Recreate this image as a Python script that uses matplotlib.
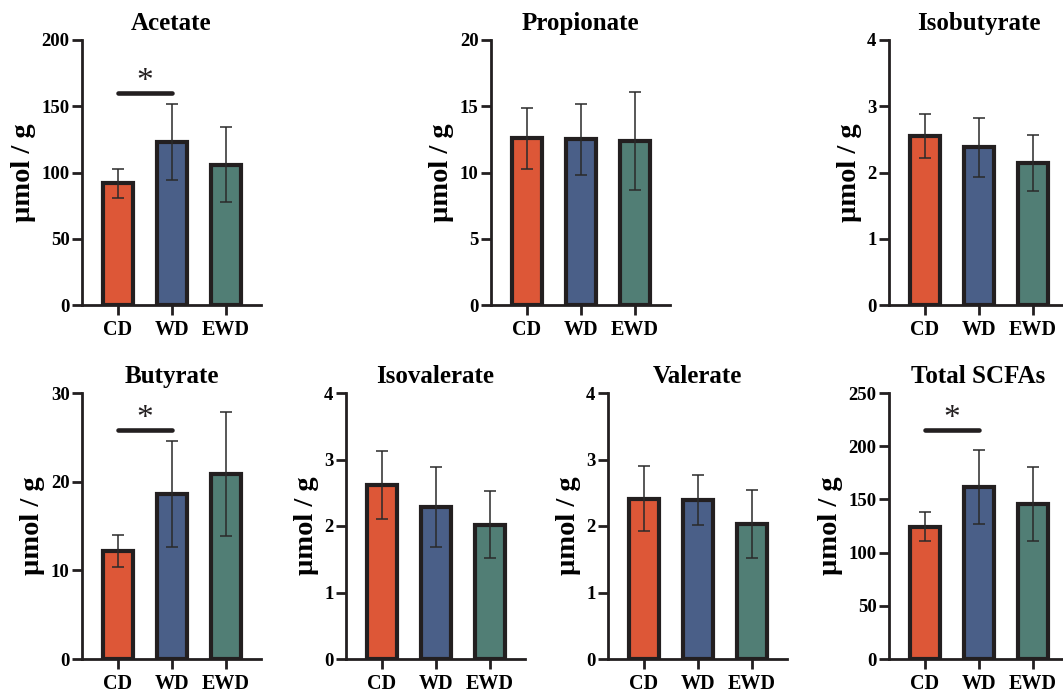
import numpy as np
import matplotlib
matplotlib.use("Agg")
from matplotlib import pyplot as plt

plt.rcParams['font.family'] = ['Liberation Serif', 'DejaVu Serif']
plt.rcParams['font.weight'] = 'bold'

groups = ['CD', 'WD', 'EWD']
colors = ['#DD5737', '#4A5F88', '#517E75']
edge = '#231F20'

titles = ['Acetate', 'Propionate', 'Isobutyrate', 'Butyrate', 'Isovalerate', 'Valerate', 'Total SCFAs']

acetate_mean = [92, 123, 106]
acetate_sd = [11, 28.5, 28]
propionate_mean = [12.6, 12.5, 12.4]
propionate_sd = [2.3, 2.7, 3.7]
isobutyrate_mean = [2.55, 2.38, 2.14]
isobutyrate_sd = [0.33, 0.45, 0.42]
butyrate_mean = [12.2, 18.6, 20.9]
butyrate_sd = [1.8, 6.0, 7.0]
isovalerate_mean = [2.62, 2.28, 2.02]
isovalerate_sd = [0.51, 0.60, 0.50]
valerate_mean = [2.41, 2.39, 2.03]
valerate_sd = [0.49, 0.38, 0.51]
total_mean = [124.5, 161.5, 145.5]
total_sd = [13.5, 34.5, 34.5]

means = [acetate_mean, propionate_mean, isobutyrate_mean, butyrate_mean,
         isovalerate_mean, valerate_mean, total_mean]
sds = [acetate_sd, propionate_sd, isobutyrate_sd, butyrate_sd,
       isovalerate_sd, valerate_sd, total_sd]
ymax = [200, 20, 4, 30, 4, 4, 250]
ystep = [50, 5, 1, 10, 1, 1, 50]
# significance bar height (CD vs WD), None if no bar
sig_y = [160, None, None, 25.8, None, None, 215]

W, H = 1063, 693
fig = plt.figure(figsize=(W / 100, H / 100), dpi=100)

# axes boxes in pixels: left, top-of-axis, bottom-of-axis
lefts = [82, 491, 889, 82, 346, 608, 889]
rows = [(40, 305)] * 3 + [(393, 659)] * 4
aw = 179

for i in range(7):
    top, bot = rows[i]
    ax = fig.add_axes([lefts[i] / W, (H - bot) / H, aw / W, (bot - top) / H])
    x = np.arange(3)
    ax.bar(x, means[i], width=0.57, color=colors, edgecolor=edge, linewidth=3.0, zorder=2)
    ax.errorbar(x, means[i], yerr=sds[i], fmt='none', ecolor='#2a2a2a',
                elinewidth=1.1, capsize=4, capthick=1.1, zorder=3)
    ax.set_xlim(-0.667, 2.65)
    ax.set_ylim(0, ymax[i])
    ax.set_yticks(np.arange(0, ymax[i] + ystep[i] / 2, ystep[i]))
    ax.set_xticks(x)
    ax.set_xticklabels(groups)
    for s in ['top', 'right']:
        ax.spines[s].set_visible(False)
    for s in ['left', 'bottom']:
        ax.spines[s].set_linewidth(2.0)
        ax.spines[s].set_color(edge)
    ax.tick_params(axis='y', length=7, width=2.0, color=edge, labelsize=13.5, pad=2)
    ax.tick_params(axis='x', length=7.5, width=2.0, color=edge, labelsize=14.5, pad=3)
    ax.set_title(titles[i], fontsize=18, fontweight='bold', pad=7)
    ax.set_ylabel('µmol / g', fontsize=20.5, fontweight='bold', labelpad=4)
    if sig_y[i] is not None:
        ax.plot([0, 1], [sig_y[i], sig_y[i]], color=edge, linewidth=3.3,
                solid_capstyle='round', clip_on=False)
        ax.annotate('*', (0.5, sig_y[i]), xytext=(0, -3), textcoords='offset points',
                    fontsize=24, fontweight='normal', ha='center', va='bottom', color=edge)

fig.savefig('out.png', dpi=100, facecolor='white')
plt.close(fig)
